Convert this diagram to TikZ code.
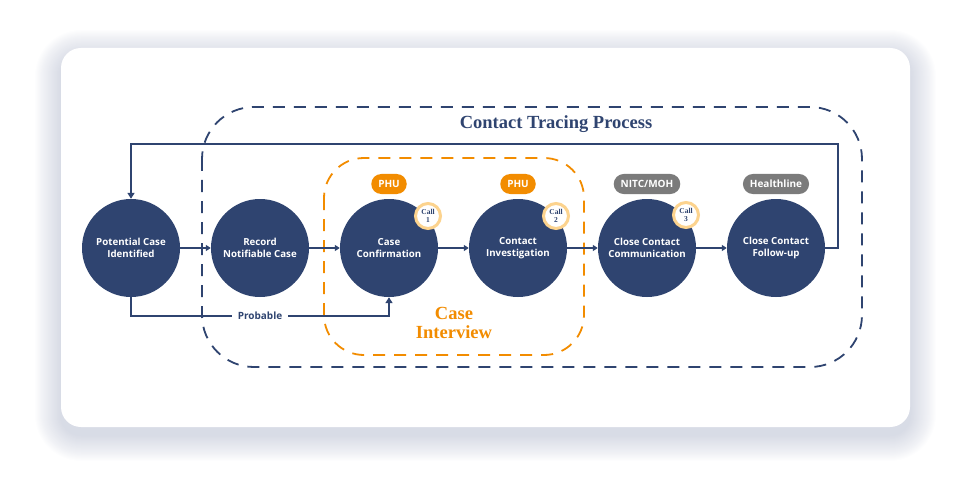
\documentclass[tikz,border=0pt]{standalone}
\usepackage{fontspec}
\setmainfont{Liberation Serif}
\newfontfamily\osans{Open Sans}
\usetikzlibrary{arrows.meta}
\definecolor{navy}{HTML}{2F4470}
\definecolor{orng}{HTML}{F28C00}
\definecolor{pillgray}{HTML}{7B7B7B}
\definecolor{ring}{HTML}{FCD38E}
\definecolor{shadowc}{HTML}{8C96B4}
\tikzset{
  proc/.style={circle, fill=navy, minimum size=98pt, inner sep=0pt, text=white, align=center,
    font=\osans\bfseries\fontsize{9.7}{11.7}\selectfont},
  pill/.style={rounded corners=10pt, fill=#1, text=white, minimum height=20pt, inner xsep=7pt, inner ysep=0pt,
    font=\osans\bfseries\fontsize{10}{12}\selectfont},
  callbadge/.style={circle, draw=ring, line width=3pt, fill=white, minimum size=25pt, inner sep=0pt,
    text=navy, align=center, font=\bfseries\fontsize{7.5}{8.5}\selectfont},
  flow/.style={navy, line width=2pt, -{Triangle[width=6pt,length=5pt]}},
  loopline/.style={navy, line width=2.8pt, -{Triangle[width=7pt,length=6pt]}},
  bigdash/.style={line width=1.8pt, dash pattern=on 12pt off 9pt, rounded corners=#1},
}
\begin{document}
\begin{tikzpicture}[x=1pt,y=-1pt]
\useasboundingbox (0,0) rectangle (960,481);
% shadow
\foreach \i in {1,...,26} {
  \pgfmathsetmacro\rr{20+\i}
  \fill[shadowc, opacity=0.014, rounded corners=\rr pt] (61-\i,48-\i+8) rectangle (910+\i,427+\i+8);
}
% card
\fill[white, rounded corners=20pt] (61,48) rectangle (910,427);
% dashed groups
\draw[navy, bigdash=52pt] (202,107) rectangle (862,367);
\draw[orng, bigdash=40pt] (324,158) rectangle (584,355);
% title texts
\node[text=navy, font=\bfseries\fontsize{18.5}{20}\selectfont] (title) at (556,124) {Contact Tracing Process};
\node[text=orng, font=\bfseries\fontsize{18.5}{19}\selectfont, align=center] (ci) at (454,323) {Case\\Interview};
% circles
\node[proc] (c1) at (131,248) {Potential Case\\Identified};
\node[proc] (c2) at (260,248) {Record\\Notifiable Case};
\node[proc] (c3) at (389,248) {Case\\Confirmation};
\node[proc] (c4) at (518,248) {Contact\\Investigation};
\node[proc] (c5) at (647,248) {Close Contact\\Communication};
\node[proc] (c6) at (776,248) {Close Contact\\Follow-up};
% connectors
\draw[flow] (c1) -- (c2);
\draw[flow] (c2) -- (c3);
\draw[flow] (c3) -- (c4);
\draw[flow] (c4) -- (c5);
\draw[flow] (c5) -- (c6);
\coordinate (lr) at (838,144);
\coordinate (ll) at (c1 |- lr);
\draw[loopline] (c6.east) -| (lr) -- (ll) -- (c1.north);
\coordinate (pr) at (260,316);
\draw[loopline] (c1.south) |- (pr) -| (c3.south);
\node[fill=white, inner xsep=6pt, inner ysep=1pt, text=navy, font=\osans\bfseries\fontsize{10}{12}\selectfont] (prob) at (pr) {Probable};
% pills
\node[pill=orng] (p3) at (389,184) {PHU};
\node[pill=orng] (p4) at (518,184) {PHU};
\node[pill=pillgray] (p5) at (647,184) {NITC/MOH};
\node[pill=pillgray] (p6) at (776,184) {Healthline};
% call badges
\node[callbadge] (k1) at (428,216) {Call\\1};
\node[callbadge] (k2) at (556,216) {Call\\2};
\node[callbadge] (k3) at (686,215) {Call\\3};
\end{tikzpicture}
\end{document}
